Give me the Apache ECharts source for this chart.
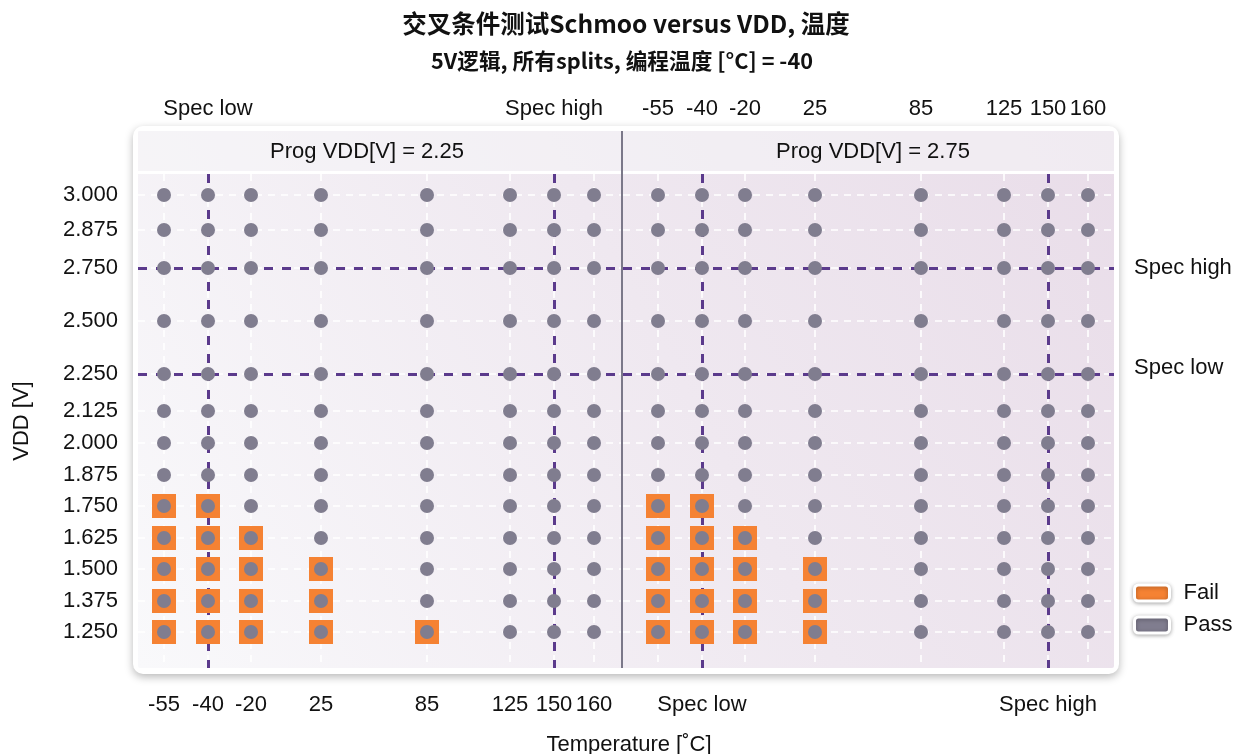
<!DOCTYPE html>
<html>
<head>
<meta charset="utf-8">
<title>Schmoo VDD × Temperature</title>
<script src="https://cdn.jsdelivr.net/npm/echarts@6/dist/echarts.min.js"></script>
<style>
  html, body { margin: 0; padding: 0; background: #ffffff; }
  #chart { width: 1243px; height: 754px; }
</style>
</head>
<body>
<div id="chart"></div>
<script>
// ---- data ----
const temps = [-55, -40, -20, 25, 85, 125, 150, 160];
const vdds = [3.000, 2.875, 2.750, 2.500, 2.250, 2.125, 2.000, 1.875, 1.750, 1.625, 1.500, 1.375, 1.250];
const progVdds = [2.25, 2.75];
const specTemps = [-40, 150];
const specVdds = [2.75, 2.25];
const specTempNames = ['Spec low', 'Spec high'];
const specVddNames = ['Spec high', 'Spec low'];

// failing [temperature, VDD] cells for each programming VDD
const failProg225 = [
  [-55, 1.750], [-40, 1.750],
  [-55, 1.625], [-40, 1.625], [-20, 1.625],
  [-55, 1.500], [-40, 1.500], [-20, 1.500], [25, 1.500],
  [-55, 1.375], [-40, 1.375], [-20, 1.375], [25, 1.375],
  [-55, 1.250], [-40, 1.250], [-20, 1.250], [25, 1.250], [85, 1.250]
];
const failProg275 = [
  [-55, 1.750], [-40, 1.750],
  [-55, 1.625], [-40, 1.625], [-20, 1.625],
  [-55, 1.500], [-40, 1.500], [-20, 1.500], [25, 1.500],
  [-55, 1.375], [-40, 1.375], [-20, 1.375], [25, 1.375],
  [-55, 1.250], [-40, 1.250], [-20, 1.250], [25, 1.250]
];
const failSets = [failProg225, failProg275];

// ---- display scales: tested conditions are spaced unevenly along each axis ----
const tempSpacing = [0, 44, 87, 157, 263, 346, 390, 430];
const vddSpacing = [0, 35, 73, 126, 179, 216, 248, 280, 311, 343, 374, 406, 437];

function makeScale(stops, spacing) {
  return function (v) {
    for (let i = 0; i < stops.length - 1; i++) {
      const a = stops[i], b = stops[i + 1];
      const lo = Math.min(a, b), hi = Math.max(a, b);
      if (v >= lo && v <= hi) {
        const f = (v - a) / (b - a);
        return spacing[i] + f * (spacing[i + 1] - spacing[i]);
      }
    }
    return v < Math.min(stops[0], stops[stops.length - 1]) ? spacing[0] : spacing[spacing.length - 1];
  };
}
const tPos = makeScale(temps, tempSpacing);
const vPos = makeScale(vdds, vddSpacing);

// ---- styling ----
const FONT = '"Liberation Sans", Arial, Helvetica, sans-serif';
const CJK = '"Noto Sans CJK SC", "Noto Sans", sans-serif';
const FS = 22;
const PASS = '#807d8f';
const FAIL = '#f58233';
const SPEC = '#5b3a8c';
const TEXT = '#111111';

const plotTop = 174, plotBottom = 668;
const grids = [
  { left: 138, width: 483, top: plotTop, height: plotBottom - plotTop },
  { left: 623, width: 491, top: plotTop, height: plotBottom - plotTop }
];
const xRanges = [{ min: -26, max: 457 }, { min: -35, max: 456 }];
const yRange = { min: -21, max: 473 };

function labelLookup(values, labels, scale) {
  return function (v) {
    for (let i = 0; i < values.length; i++) {
      if (Math.abs(scale(values[i]) - v) < 1e-6) return labels[i];
    }
    return '';
  };
}

function tempAxis(gridIndex, position, values, labels, margin) {
  return {
    type: 'value', gridIndex, position,
    min: xRanges[gridIndex].min, max: xRanges[gridIndex].max,
    axisLine: { show: false }, axisTick: { show: false }, splitLine: { show: false },
    axisLabel: {
      customValues: values.map(tPos),
      formatter: labelLookup(values, labels, tPos),
      margin, fontSize: FS, color: TEXT, fontFamily: FONT
    }
  };
}

const xAxes = [
  tempAxis(0, 'bottom', temps, temps.map(String), 26),
  tempAxis(0, 'top', specTemps, specTempNames, 54),
  tempAxis(1, 'bottom', specTemps, specTempNames, 26),
  tempAxis(1, 'top', temps, temps.map(String), 54)
];

const yAxes = [
  {
    type: 'value', gridIndex: 0, position: 'left', inverse: true,
    min: yRange.min, max: yRange.max,
    name: 'VDD [V]', nameLocation: 'middle', nameGap: 105, nameRotate: 90,
    nameTextStyle: { fontSize: FS, color: TEXT, fontFamily: FONT },
    axisLine: { show: false }, axisTick: { show: false }, splitLine: { show: false },
    axisLabel: {
      customValues: vdds.map(vPos),
      formatter: labelLookup(vdds, vdds.map(v => v.toFixed(3)), vPos),
      margin: 20, fontSize: FS, color: TEXT, fontFamily: FONT
    }
  },
  {
    type: 'value', gridIndex: 1, position: 'right', inverse: true,
    min: yRange.min, max: yRange.max,
    axisLine: { show: false }, axisTick: { show: false }, splitLine: { show: false },
    axisLabel: {
      customValues: specVdds.map(vPos),
      formatter: function (v) {
        const name = labelLookup(specVdds, specVddNames, vPos)(v);
        return name === 'Spec low' ? '{lo|' + name + '}' : name;
      },
      rich: { lo: { fontSize: FS, color: TEXT, fontFamily: FONT, padding: [0, 0, 12, 0] } },
      margin: 20, fontSize: FS, color: TEXT, fontFamily: FONT
    }
  }
];

const series = [];
progVdds.forEach(function (prog, p) {
  const xi = p * 2, yi = p;
  const fails = failSets[p];
  const isFail = (t, v) => fails.some(c => c[0] === t && c[1] === v);
  const passCells = [];
  temps.forEach(t => vdds.forEach(v => { if (!isFail(t, v)) passCells.push([tPos(t), vPos(v)]); }));
  const failCells = fails.map(c => [tPos(c[0]), vPos(c[1])]);

  // white dashed grid at every tested condition
  series.push({
    type: 'scatter', xAxisIndex: xi, yAxisIndex: yi, data: [], silent: true, z: 1,
    markLine: {
      z: 1, silent: true, symbol: ['none', 'none'], animation: false, label: { show: false },
      lineStyle: { color: '#ffffff', type: [7, 6], width: 1.6 },
      data: temps.map(t => ({ xAxis: tPos(t) })).concat(vdds.map(v => ({ yAxis: vPos(v) })))
    }
  });
  // spec limits
  series.push({
    type: 'scatter', xAxisIndex: xi, yAxisIndex: yi, data: [], silent: true, z: 2,
    markLine: {
      z: 2, silent: true, symbol: ['none', 'none'], animation: false, label: { show: false },
      lineStyle: { color: SPEC, type: [9, 9], width: 3 },
      data: specTemps.map(t => ({ xAxis: tPos(t) })).concat(specVdds.map(v => ({ yAxis: vPos(v) })))
    }
  });
  series.push({
    name: 'Fail', type: 'scatter', xAxisIndex: xi, yAxisIndex: yi, z: 3,
    symbol: 'rect', symbolSize: 24, itemStyle: { color: FAIL, opacity: 1 },
    data: failCells, animation: false
  });
  series.push({
    name: 'Fail', type: 'scatter', xAxisIndex: xi, yAxisIndex: yi, z: 4,
    symbol: 'circle', symbolSize: 14, itemStyle: { color: PASS, opacity: 1 },
    data: failCells, animation: false
  });
  series.push({
    name: 'Pass', type: 'scatter', xAxisIndex: xi, yAxisIndex: yi, z: 4,
    symbol: 'circle', symbolSize: 14, itemStyle: { color: PASS, opacity: 1 },
    data: passCells, animation: false
  });
});

const panelGradient = new echarts.graphic.LinearGradient(0, 1, 1, 0, [
  { offset: 0, color: '#f9f9fb' },
  { offset: 0.55, color: '#efe8f0' },
  { offset: 1, color: '#e9dde9' }
]);

const option = {
  backgroundColor: '#ffffff',
  animation: false,
  title: [
    {
      text: '交叉条件测试Schmoo versus VDD, 温度',
      left: 621, top: 6, textAlign: 'center',
      textStyle: { fontSize: 24.5, fontWeight: 'bold', color: TEXT, fontFamily: CJK }
    },
    {
      text: '5V逻辑, 所有splits, 编程温度 [°C] = -40',
      left: 617, top: 45, textAlign: 'center',
      textStyle: { fontSize: 21.7, fontWeight: 'bold', color: TEXT, fontFamily: CJK }
    },
    {
      text: 'Temperature [˚C]',
      left: 624, top: 729, textAlign: 'center',
      textStyle: { fontSize: FS, fontWeight: 'normal', color: TEXT, fontFamily: FONT }
    }
  ],
  legend: {
    orient: 'vertical', left: 1128, top: 577,
    itemWidth: 35, itemHeight: 16, itemGap: 10,
    icon: 'roundRect',
    textStyle: { fontSize: FS, color: TEXT, fontFamily: FONT, padding: [0, 0, 0, 9] },
    itemStyle: { borderColor: '#ffffff', borderWidth: 3, shadowBlur: 4, shadowColor: 'rgba(0,0,0,0.3)', shadowOffsetY: 1 },
    data: [
      { name: 'Fail', itemStyle: { color: FAIL } },
      { name: 'Pass', itemStyle: { color: PASS } }
    ],
    selectedMode: false
  },
  graphic: [
    {
      type: 'rect', z: -10, silent: true,
      shape: { x: 133, y: 126, width: 986, height: 548, r: 10 },
      style: { fill: '#ffffff', shadowBlur: 8, shadowOffsetY: 3, shadowColor: 'rgba(0,0,0,0.28)' }
    },
    {
      type: 'rect', z: -9, silent: true,
      shape: { x: 138, y: 131, width: 976, height: 537, r: 2 },
      style: { fill: panelGradient }
    },
    {
      type: 'rect', z: -8, silent: true,
      shape: { x: 138, y: 131, width: 976, height: 40 },
      style: { fill: 'rgba(246,245,248,0.55)' }
    },
    {
      type: 'rect', z: -8, silent: true,
      shape: { x: 138, y: 171, width: 976, height: 3 },
      style: { fill: '#ffffff' }
    },
    {
      type: 'line', z: 10, silent: true,
      shape: { x1: 622, y1: 131, x2: 622, y2: 668 },
      style: { stroke: '#7b7889', lineWidth: 2 }
    },
    {
      type: 'text', z: 10, silent: true,
      style: {
        text: 'Prog VDD[V] = ' + progVdds[0].toFixed(2), x: 367, y: 152,
        textAlign: 'center', textVerticalAlign: 'middle',
        fontSize: FS, fontFamily: FONT, fill: TEXT
      }
    },
    {
      type: 'text', z: 10, silent: true,
      style: {
        text: 'Prog VDD[V] = ' + progVdds[1].toFixed(2), x: 873, y: 152,
        textAlign: 'center', textVerticalAlign: 'middle',
        fontSize: FS, fontFamily: FONT, fill: TEXT
      }
    }
  ],
  grid: grids.map(g => Object.assign({ show: false, containLabel: false }, g)),
  xAxis: xAxes,
  yAxis: yAxes,
  series: series
};

const chart = echarts.init(document.getElementById('chart'), null, { renderer: 'canvas' });
chart.setOption(option);
</script>
</body>
</html>
